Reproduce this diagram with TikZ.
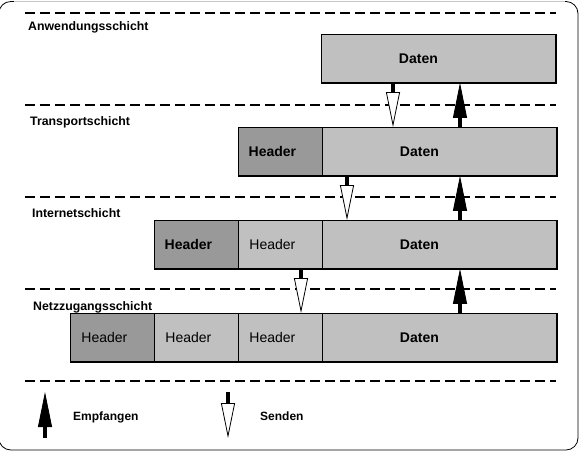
\documentclass[tikz,border=0pt]{standalone}
\usepackage{fontspec}
\setmainfont{Liberation Sans}
\usetikzlibrary{arrows.meta}
\definecolor{boxdark}{RGB}{153,153,153}
\definecolor{boxlight}{RGB}{192,192,192}
\begin{document}
\begin{tikzpicture}[x=1pt,y=-1pt,
  seg/.style={draw,line width=0.8pt,anchor=north west,minimum height=48pt,inner sep=0pt,
    font=\fontsize{14}{16}\selectfont},
  datseg/.style={seg,fill=boxlight,minimum width=234pt,font=\fontsize{14}{16}\selectfont\bfseries,
    execute at begin node=\hspace*{-40pt}},
  darkhdr/.style={seg,fill=boxdark,minimum width=84pt,execute at begin node=\hspace*{-16pt}},
  lighthdr/.style={seg,fill=boxlight,minimum width=84pt,execute at begin node=\hspace*{-16pt}},
  layer/.style={anchor=base west,inner sep=0pt,font=\fontsize{12.3}{14}\selectfont\bfseries},
  legend/.style={anchor=base west,inner sep=0pt,font=\fontsize{12}{14}\selectfont\bfseries},
  sepline/.style={line width=1.8pt,dash pattern=on 10pt off 5pt},
  sendarrow/.style={line width=3.4pt,-{Triangle[length=35pt,width=14pt,open,fill=white,line width=0.8pt]}},
  recvarrow/.style={line width=3.4pt,-{Triangle[length=35pt,width=14pt,line width=0.8pt]}}]
\useasboundingbox (0,0) rectangle (587,475);
\draw[line width=0.8pt,rounded corners=12pt] (-1.2,1.5) rectangle (578,450);
\draw[gray!45,line width=1pt] (14,1.5) -- (565,1.5);
\foreach \y in {13,105,197,289,381}
  \draw[sepline] (25,\y) -- (556,\y);
\node[layer] (l1) at (28,30) {Anwendungsschicht};
\node[layer] (l2) at (30,125) {Transportschicht};
\node[layer] (l3) at (32,217) {Internetschicht};
\node[layer] (l4) at (33,310) {Netzzugangsschicht};
\node[datseg] (d1) at (321,34) {Daten};
\node[darkhdr] (h2a) at (238,127) {\bfseries Header};
\node[datseg] (d2) at (322,127) {Daten};
\node[darkhdr] (h3a) at (154,220) {\bfseries Header};
\node[lighthdr] (h3b) at (238,220) {Header};
\node[datseg] (d3) at (322,220) {Daten};
\node[darkhdr] (h4a) at (70,313) {Header};
\node[lighthdr] (h4b) at (154,313) {Header};
\node[lighthdr] (h4c) at (238,313) {Header};
\node[datseg] (d4) at (322,313) {Daten};
\foreach \l/\r in {d1/d1,h2a/d2,h3a/d3,h4a/d4}
  \draw[line width=1.6pt] (\l.south west) -- (\r.south east) -- (\r.north east);
\coordinate (s1) at (393,0);
\coordinate (s2) at (347,0);
\coordinate (s3) at (301,0);
\coordinate (r) at (460,0);
\draw[sendarrow] (d1.south -| s1) -- (d2.north -| s1);
\draw[sendarrow] (d2.south -| s2) -- (d3.north -| s2);
\draw[sendarrow] (h3b.south -| s3) -- (h4c.north -| s3);
\draw[recvarrow] (d2.north -| r) -- (d1.south -| r);
\draw[recvarrow] (d3.north -| r) -- (d2.south -| r);
\draw[recvarrow] (d4.north -| r) -- (d3.south -| r);
\coordinate (e1) at (45,438);
\coordinate (e2) at (45,392);
\coordinate (n1) at (228,392);
\coordinate (n2) at (228,438);
\draw[recvarrow] (e1) -- (e2);
\draw[sendarrow] (n1) -- (n2);
\node[legend] (emp) at (73,420) {Empfangen};
\node[legend] (sen) at (260,420) {Senden};
\end{tikzpicture}
\end{document}
